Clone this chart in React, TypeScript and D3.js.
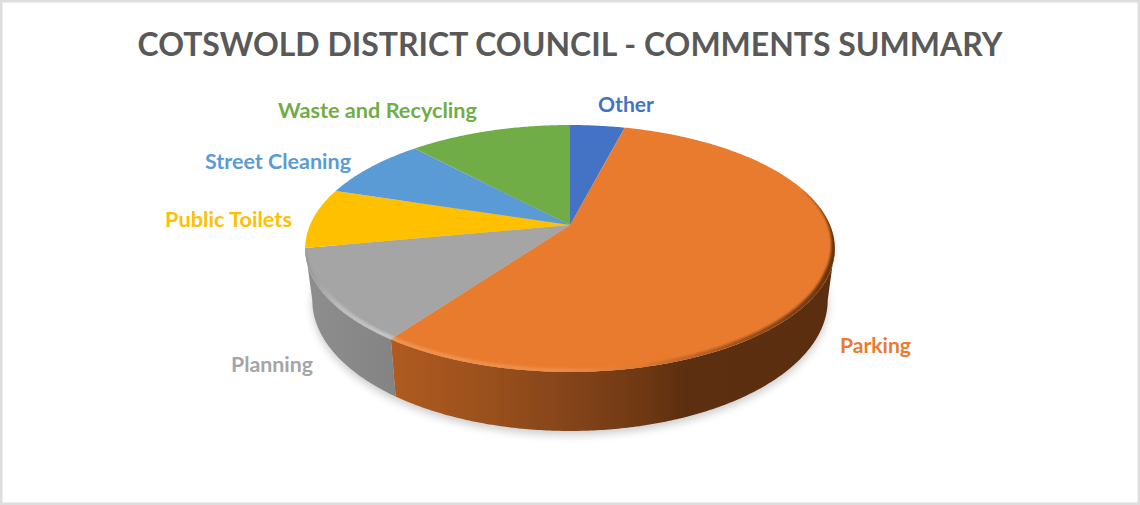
import React from 'react';
import * as d3 from 'd3';

const title = 'COTSWOLD DISTRICT COUNCIL - COMMENTS SUMMARY';
const categories = ['Other', 'Parking', 'Planning', 'Public Toilets', 'Street Cleaning', 'Waste and Recycling'];
const shares = [4.0, 55.9, 12.1, 7.9, 8.2, 11.9];
const colors = ['#4472C4', '#E97B2F', '#A5A5A5', '#FFC000', '#5B9BD5', '#70AD47'];

const width = 1140;
const height = 505;

// label centre and drawn width in pixels, layout only
const labelPos: Record<string, [number, number, number]> = {
  'Other': [626, 112, 56],
  'Parking': [875.5, 353, 71],
  'Planning': [272, 372, 82],
  'Public Toilets': [228.5, 227, 127],
  'Street Cleaning': [278, 169, 146],
  'Waste and Recycling': [377.5, 118, 199],
};

// perspective disc: tilt gives the apex above the centre of the ellipse
const persp = 0.19;
const topFace = { cx: 570, cy: 225, rx: 260, ry: 119 };
const bottomFace = { cx: 570, cy: 275.4, rx: 253, ry: 126 };

type Face = typeof topFace;

const project = (face: Face, a: number, r = 1): [number, number] => {
  const c = Math.sin(a) * r;
  const s = -Math.cos(a) * r;
  const w = 1 - persp * s;
  return [face.cx + (face.rx * c) / w, face.cy + (face.ry * s) / w];
};

const sampleAngles = (a0: number, a1: number) => {
  const n = Math.max(2, Math.ceil(Math.abs(a1 - a0) / 0.01));
  return d3.range(n + 1).map(i => a0 + ((a1 - a0) * i) / n);
};

const sampleArc = (face: Face, a0: number, a1: number, r = 1) =>
  sampleAngles(a0, a1).map(a => project(face, a, r));

const line = d3.line<[number, number]>();

const slices = d3.pie<number>().sort(null)(shares);

// part of the rim that can be seen from the front
const visibleFrom = Math.acos(-persp);
const visibleTo = 2 * Math.PI - visibleFrom;

const topPath = (a0: number, a1: number) =>
  line([[topFace.cx, topFace.cy], ...sampleArc(topFace, a0, a1)]) + 'Z';

const sidePath = (a0: number, a1: number) =>
  line([...sampleArc(topFace, a0, a1), ...sampleArc(bottomFace, a1, a0)]) + 'Z';

// bevel band along the rim, its width fades out at the tapered end
const bevelPath = (a0: number, a1: number, taper: (a: number) => number) => {
  const angles = sampleAngles(a0, a1);
  const outer = angles.map(a => project(topFace, a, 1.005));
  const inner = angles.map(a => project(topFace, a, 1 - 0.018 * taper(a))).reverse();
  return line([...outer, ...inner]) + 'Z';
};

const sideStops: Record<string, [number, string][]> = {
  Parking: [
    [392, '#b05b20'],
    [480, '#9c511c'],
    [570, '#84441a'],
    [640, '#703913'],
    [685, '#5c2f10'],
    [830, '#5a2e0f'],
  ],
  Planning: [
    [305, '#8e8e8e'],
    [340, '#8a8a8a'],
    [395, '#848484'],
  ],
};

const rimStops: Record<string, [number, string][]> = {
  Parking: [
    [392, '#ee9550'],
    [560, '#ec8e4a'],
    [640, '#dd7a30'],
    [720, '#a9581f'],
    [835, '#64330f'],
  ],
  Planning: [
    [305, '#959595'],
    [340, '#bdbdbd'],
    [395, '#c6c6c6'],
  ],
};

const Gradient = ({ id, stops }: { id: string; stops: [number, string][] }) => {
  const x = d3.scaleLinear().domain([stops[0][0], stops[stops.length - 1][0]]).range([0, 100]);
  return (
    <linearGradient id={id} gradientUnits="userSpaceOnUse" x1={stops[0][0]} x2={stops[stops.length - 1][0]} y1={0} y2={0}>
      {stops.map(([px, col]) => (
        <stop key={px} offset={`${x(px)}%`} stopColor={col} />
      ))}
    </linearGradient>
  );
};

const App = () => {
  const parking = slices[1];
  const planning = slices[2];
  const sideSlices = [
    { name: 'Parking', a0: Math.max(parking.startAngle, visibleFrom), a1: parking.endAngle },
    { name: 'Planning', a0: planning.startAngle, a1: Math.min(planning.endAngle, visibleTo) },
  ];
  const shadowPath = line(sampleArc({ ...bottomFace, cy: bottomFace.cy + 4 }, 0, 2 * Math.PI)) + 'Z';
  const bevelStart = parking.startAngle + 1.0;

  return (
    <svg width={width} height={height} style={{ position: 'fixed', left: 0, top: 0, background: '#fff' }}>
      <defs>
        <filter id="soft" x="-10%" y="-10%" width="120%" height="130%">
          <feGaussianBlur stdDeviation="4" />
        </filter>
        <filter id="rimBlur" x="-5%" y="-5%" width="110%" height="110%">
          <feGaussianBlur stdDeviation="1.2" />
        </filter>
        {Object.entries(sideStops).map(([k, s]) => <Gradient key={k} id={`side-${k}`} stops={s} />)}
        {Object.entries(rimStops).map(([k, s]) => <Gradient key={k} id={`rim-${k}`} stops={s} />)}
        <clipPath id="discClip">
          <path d={line(sampleArc(topFace, 0, 2 * Math.PI)) + 'Z'} />
        </clipPath>
      </defs>

      <rect x={1.25} y={1.25} width={width - 2.5} height={height - 2.5} fill="#fff" stroke="#DEDEDE" strokeWidth={2.5} />

      <text
        x={570}
        y={56}
        textAnchor="middle"
        fontFamily="Lato, 'Open Sans', sans-serif"
        fontWeight={700}
        fontSize={33}
        fill="#595959"
        textLength={865}
        lengthAdjust="spacingAndGlyphs"
      >
        {title}
      </text>

      <path d={shadowPath} fill="#000" opacity={0.2} filter="url(#soft)" />

      {sideSlices.map(s => (
        <path key={s.name} d={sidePath(s.a0, s.a1)} fill={`url(#side-${s.name})`} />
      ))}

      {slices.map((s, i) => (
        <path key={categories[i]} d={topPath(s.startAngle, s.endAngle)} fill={colors[i]} />
      ))}

      <g clipPath="url(#discClip)" filter="url(#rimBlur)">
        <path
          d={bevelPath(bevelStart, parking.endAngle, a => Math.min(1, (a - bevelStart) / 0.7))}
          fill="url(#rim-Parking)"
        />
        <path
          d={bevelPath(planning.startAngle, planning.endAngle, a => Math.min(1, (planning.endAngle - a) / 0.3))}
          fill="url(#rim-Planning)"
        />
      </g>

      {categories.map((name, i) => (
        <text
          key={name}
          x={labelPos[name][0]}
          y={labelPos[name][1]}
          textAnchor="middle"
          fontFamily="Lato, 'Open Sans', sans-serif"
          fontWeight={700}
          fontSize={21}
          fill={colors[i]}
          textLength={labelPos[name][2]}
          lengthAdjust="spacingAndGlyphs"
        >
          {name}
        </text>
      ))}
    </svg>
  );
};

export default App;
